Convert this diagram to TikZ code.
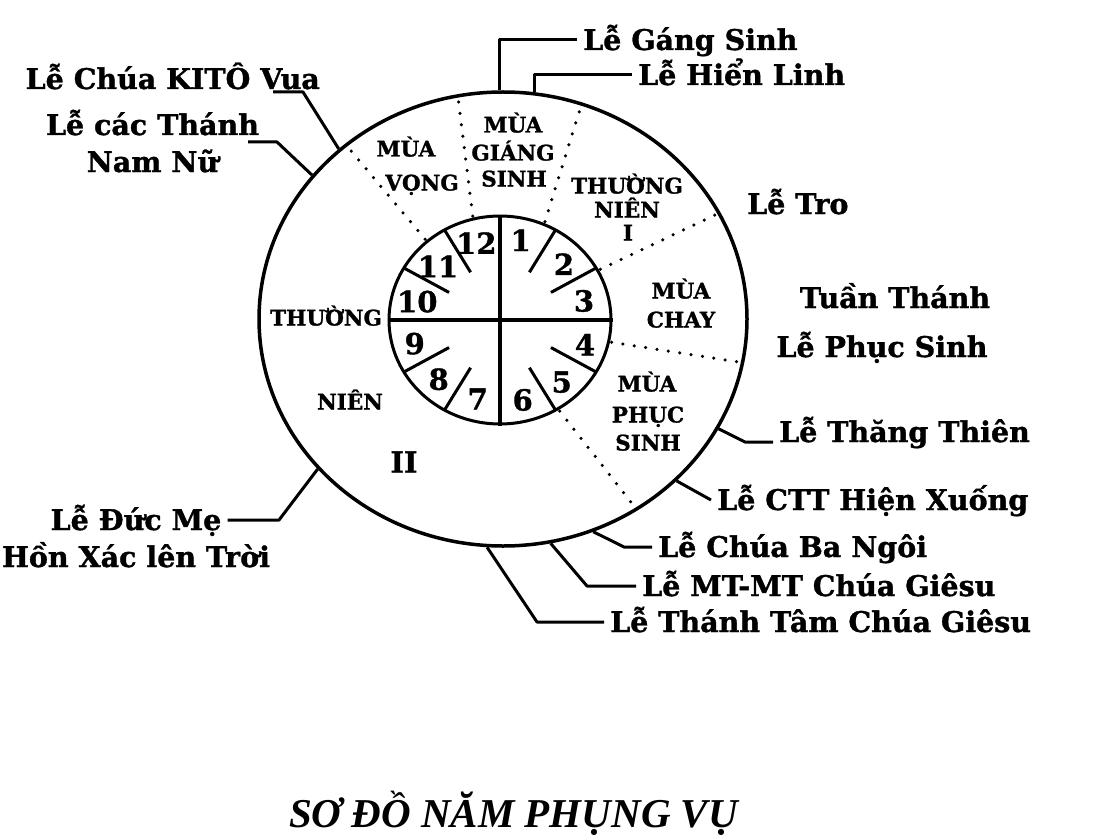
\documentclass[tikz,border=0pt]{standalone}
\usepackage{fontspec}
\setmainfont{DejaVu Serif}[BoldFeatures={FakeBold=1.2}]
\newfontfamily\titlefont{Liberation Serif}
\usetikzlibrary{shapes.geometric}

\tikzset{
  lbl/.style={font=\bfseries\fontsize{28.5}{31}\selectfont, inner xsep=6pt, inner ysep=0pt, text height=20pt, text depth=0pt},
  season/.style={font=\bfseries\fontsize{21.5}{24}\selectfont, inner sep=0pt, text height=15pt, text depth=0pt},
  num/.style={font=\bfseries\fontsize{29}{31}\selectfont, inner sep=0pt, text height=21pt, text depth=0pt},
  sep/.style={line width=3.5pt, dash pattern=on 0pt off 11.5pt, line cap=round},
  link/.style={line width=3pt}
}

\begin{document}
\begin{tikzpicture}[x=1pt,y=-1pt,line join=round]
\useasboundingbox (0,0) rectangle (1094,837);

% the wheel
\node (outer) [draw, ellipse, line width=3.5pt, minimum width=488pt, minimum height=454pt, inner sep=0pt] at (503,319) {};
\node (inner) [draw, ellipse, line width=3pt, minimum width=222pt, minimum height=208pt, inner sep=0pt] at (500,320) {};
\draw[line width=3.5pt] (inner.west) -- (inner.east);
\draw[line width=3.5pt] (inner.north) -- (inner.south);
\foreach \a in {30,60,120,150,210,240,300,330}
  \draw[line width=3pt] ({500+0.53*111*cos(\a)},{320-0.53*104*sin(\a)}) -- ({500+111*cos(\a)},{320-104*sin(\a)});
\foreach \a/\b in {103.8/100.7, 66.8/71.2, 131/130, 28.3/27.8, -12/-11.1, -58.4/-56.9}
  \draw[sep] ({500+114*cos(\a)},{320-107*sin(\a)}) -- ({503+242*cos(\b)},{319-225*sin(\b)});

% months
\foreach \n/\x/\y in {1/520.7/240.5, 2/564/264.4, 3/584/301, 4/585/345, 5/561.7/382, 6/522.7/400,
                      7/477.7/399, 8/438.7/379.3, 9/414.7/343.7, 10/417.3/301.7, 11/438/266.7, 12/476.3/243.3}
  \node[num] (m\n) at (\x,\y) {\n};

% seasons
\foreach \t/\x/\y [count=\i] in {MÙA/406/149, VỌNG/422/183, MÙA/513/125, GIÁNG/513/153, SINH/514/179,
                                 THƯỜNG/627/186, NIÊN/627/210, I/628/233, MÙA/681/291, CHAY/681/320,
                                 MÙA/647/384, PHỤC/648/415, SINH/648/443, THƯỜNG/326/318, NIÊN/350/402}
  \node[season] (s\i) at (\x,\y) {\t};
\node[num] (s16) at (404,462) {II};

% feasts
\node[lbl, anchor=base west] (tGS) at (577,50) {Lễ Gáng Sinh};
\node[lbl, anchor=base west] (tHL) at (632,85) {Lễ Hiển Linh};
\node[lbl, anchor=base east] (tKV) at (326,89) {Lễ Chúa KITÔ Vua};
\node[lbl, anchor=base] (tCT) at (152.5,135) {Lễ các Thánh};
\node[lbl, anchor=base] (tCT2) at (152.5,172) {Nam Nữ};
\node[lbl, anchor=base west] (tTro) at (741,214) {Lễ Tro};
\node[lbl, anchor=base] (tTu) at (895,308) {Tuần Thánh};
\node[lbl, anchor=base] (tPS) at (882,357) {Lễ Phục Sinh};
\node[lbl, anchor=base west] (tTT) at (773,442) {Lễ Thăng Thiên};
\node[lbl, anchor=base west] (tCTT) at (711,510) {Lễ CTT Hiện Xuống};
\node[lbl, anchor=base west] (tBN) at (652,557) {Lễ Chúa Ba Ngôi};
\node[lbl, anchor=base west] (tMT) at (636,596) {Lễ MT-MT Chúa Giêsu};
\node[lbl, anchor=base west] (tTTm) at (604,632) {Lễ Thánh Tâm Chúa Giêsu};
\node[lbl, anchor=base] (tDM) at (136,530) {Lễ Đức Mẹ};
\node[lbl, anchor=base] (tDM2) at (136,567) {Hồn Xác lên Trời};

% links
\coordinate (kKV) at (303,92);
\coordinate (eKV) at (273,92);
\coordinate (kCT) at (277,142);
\coordinate (eCT) at (248,142);
\coordinate (kTT) at (745,442);
\coordinate (kBN) at (624,547);
\coordinate (kMT) at (587,586);
\coordinate (kTTm) at (537,622);
\coordinate (kDM) at (279,520);
\draw[link] (outer.91.3) |- (tGS.west);
\draw[link] (outer.82.1) |- (tHL.west);
\draw[link] (outer.134.7) -- (kKV) -- (eKV);
\draw[link] (outer.143.4) -- (kCT) -- (eCT);
\draw[link] (outer.333.6) -- (kTT) -- (tTT.base west);
\draw[link] (outer.317.2) -- (tCTT.west);
\draw[link] (outer.293.9) -- (kBN) -- (tBN.west);
\draw[link] (outer.282) -- (kMT) -- (tMT.west);
\draw[link] (outer.266.3) -- (kTTm) -- (tTTm.west);
\draw[link] (outer.219.7) -- (kDM) -- (tDM.east);

\node[font=\titlefont\bfseries\itshape\fontsize{41}{44}\selectfont, anchor=base, inner sep=0pt] (title) at (513.5,827) {SƠ ĐỒ NĂM PHỤNG VỤ};
\end{tikzpicture}
\end{document}
